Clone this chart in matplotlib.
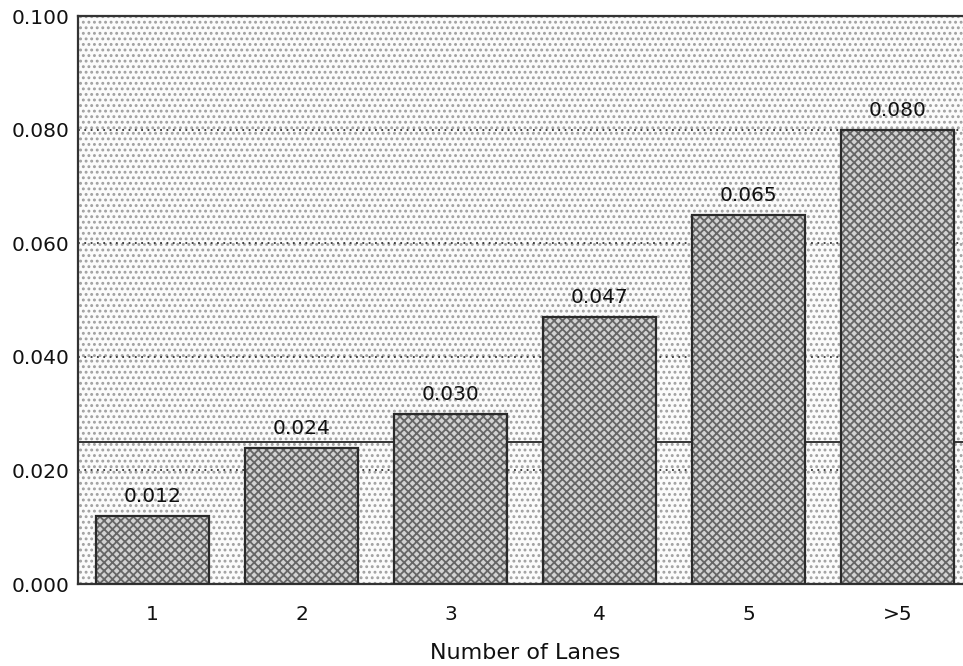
import matplotlib
matplotlib.use("Agg")
import matplotlib.pyplot as plt
from matplotlib.patches import Rectangle

lanes = ["1", "2", "3", "4", "5", ">5"]
rates = [0.012, 0.024, 0.030, 0.047, 0.065, 0.080]
rate_labels = ["0.012", "0.024", "0.030", "0.047", "0.065", "0.080"]
average_rate = 0.025
y_ticks = [0.000, 0.020, 0.040, 0.060, 0.080, 0.100]

plt.rcParams["font.family"] = ["DejaVu Sans"]
plt.rcParams["hatch.linewidth"] = 1.3

fig = plt.figure(figsize=(9.63, 6.66), dpi=100)
ax = fig.add_axes([78 / 963, 1 - 584 / 666, 894 / 963, 568 / 666])

# stippled background
ax.set_facecolor("#fbfbfb")
ax.add_patch(Rectangle((0, 0), 1, 1, transform=ax.transAxes, facecolor="none",
                       edgecolor="#a0a0a0", linewidth=0, hatch="...", zorder=0))

x = list(range(len(lanes)))

# dotted grid + average line (behind bars)
for yv in y_ticks[1:-1]:
    ax.axhline(yv, color="#333333", linestyle=(0, (1, 2.5)), linewidth=1.3, zorder=1)
ax.axhline(average_rate, color="#333333", linewidth=1.4, zorder=1)

# bars: hatched fill + outline
ax.bar(x, rates, width=0.757, color="#d2d2d2", edgecolor="#666666", linewidth=0,
       hatch="xxxx", zorder=2)
ax.bar(x, rates, width=0.757, fill=False, edgecolor="#2a2a2a", linewidth=1.6, zorder=3)

for xi, v, lab in zip(x, rates, rate_labels):
    ax.annotate(lab, (xi, v), xytext=(0, 7), textcoords="offset points",
                ha="center", va="bottom", fontsize=14.5, color="#111111", zorder=4)

ax.set_xlim(-0.5, 5.5)
ax.set_ylim(0, 0.100)
ax.set_xticks(x)
ax.set_xticklabels(lanes, fontsize=14.5)
ax.set_yticks(y_ticks)
ax.set_yticklabels(["%.3f" % t for t in y_ticks], fontsize=14.5)
ax.tick_params(axis="both", length=0, colors="#111111")
ax.tick_params(axis="x", pad=15)
ax.tick_params(axis="y", pad=6)
ax.set_xlabel("Number of Lanes", fontsize=16, labelpad=14, color="#111111")

for side in ["left", "top", "bottom"]:
    ax.spines[side].set_color("#333333")
    ax.spines[side].set_linewidth(1.6)
ax.spines["right"].set_visible(False)

fig.savefig("out.png", dpi=100)
